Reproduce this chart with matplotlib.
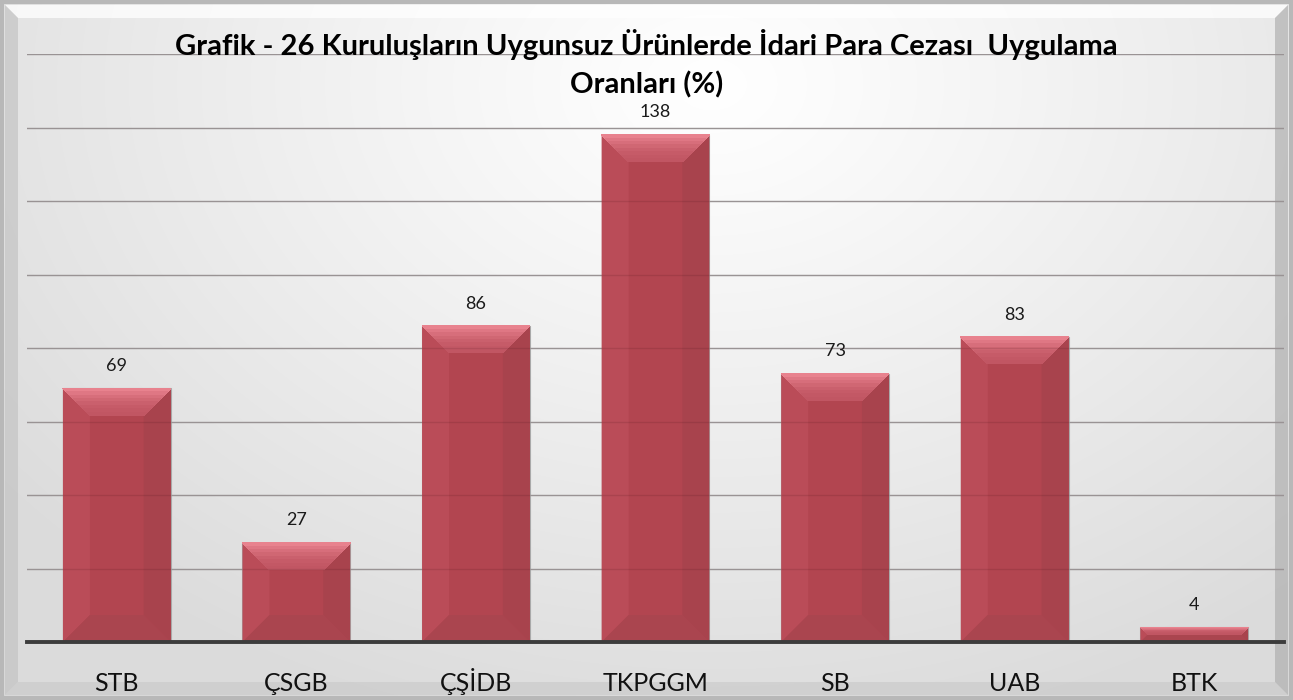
import numpy as np
import matplotlib
matplotlib.use("Agg")
import matplotlib.pyplot as plt
from matplotlib.patches import Polygon, Rectangle

plt.rcParams['font.family'] = ['Lato', 'DejaVu Sans']

categories = ["STB", "ÇSGB", "ÇŞİDB", "TKPGGM", "SB", "UAB", "BTK"]
values = [69, 27, 86, 138, 73, 83, 4]
title = "Grafik - 26 Kuruluşların Uygunsuz Ürünlerde İdari Para Cezası  Uygulama\nOranları (%)"

W, H = 1293, 700
fig = plt.figure(figsize=(W / 100, H / 100), dpi=100)

# background
bg = fig.add_axes([0, 0, 1, 1], zorder=-10)
yy, xx = np.mgrid[0:H, 0:W]
cx, cy = W * 0.55, H * 0.12
r = np.sqrt(((xx - cx) / (W * 0.7)) ** 2 + ((yy - cy) / (H * 0.95)) ** 2)
g = 1.0 - 0.14 * np.clip(r, 0, 1) ** 1.1
img = np.dstack([g, g, g])
bg.imshow(img, extent=[0, W, H, 0], aspect='auto')
bg.set_xlim(0, W)
bg.set_ylim(H, 0)
bg.axis('off')
# outer frame and bevel
m = 13
o = 5
bg.add_patch(Rectangle((2, 2), W - 4, H - 4, fill=False, ec='#b8b8b8', lw=3))
bg.add_patch(Polygon([[o, o], [W - o, o], [W - o - m, o + m], [o + m, o + m]], closed=True, fc='white', ec='none', alpha=0.75))
bg.add_patch(Polygon([[o, o], [o + m, o + m], [o + m, H - o - m], [o, H - o]], closed=True, fc='#c4c4c4', ec='none', alpha=0.7))
bg.add_patch(Polygon([[o, H - o], [o + m, H - o - m], [W - o - m, H - o - m], [W - o, H - o]], closed=True, fc='#c8c8c8', ec='none', alpha=0.6))
bg.add_patch(Polygon([[W - o, o], [W - o - m, o + m], [W - o - m, H - o - m], [W - o, H - o]], closed=True, fc='#b0b0b0', ec='none', alpha=0.7))

# main axes
left, right, top, bottom = 27, 1284, 54, 642
ax = fig.add_axes([left / W, 1 - bottom / H, (right - left) / W, (bottom - top) / H])
ax.patch.set_alpha(0)
x = np.arange(len(categories))
ax.set_xlim(-0.5, len(categories) - 0.5)
ax.set_ylim(0, 160)
yt = np.arange(0, 161, 20)
ax.set_yticks(yt)
ax.yaxis.grid(True, color='#a8a8a8', lw=1)
ax.set_axisbelow(True)
ax.tick_params(axis='y', left=False, labelleft=False)
ax.tick_params(axis='x', bottom=False, labelsize=18, pad=32, labelcolor='#111111')
for s in ['top', 'right', 'left']:
    ax.spines[s].set_visible(False)
ax.spines['bottom'].set_color('#3c3c3c')
ax.spines['bottom'].set_linewidth(2.8)
ax.spines['bottom'].set_zorder(5)
ax.set_xticks(x)
ax.set_xticklabels(categories)
for lab in ax.get_xticklabels():
    lab.set_verticalalignment('baseline')

bw = 0.6
bars = ax.bar(x, values, width=bw, color='#b24550', edgecolor='#a9a9a9', lw=0.8, zorder=2)
px_per_unit_x = (right - left) / len(categories)
px_per_unit_y = (bottom - top) / 160
bev_px = 27
for xi, v in zip(x, values):
    dy = min(bev_px / px_per_unit_y, v / 2)
    dxx = dy * px_per_unit_y / px_per_unit_x
    x0, x1 = xi - bw / 2, xi + bw / 2
    ax.add_patch(Polygon([[x0, v], [x0 + dxx, v - dy], [x0 + dxx, dy], [x0, 0]], closed=True,
                         fc='#ba4c58', ec='none', zorder=3))
    ax.add_patch(Polygon([[x1, v], [x1 - dxx, v - dy], [x1 - dxx, dy], [x1, 0]], closed=True,
                         fc='#a8434d', ec='none', zorder=3))
    ax.add_patch(Polygon([[x0, 0], [x1, 0], [x1 - dxx, dy], [x0 + dxx, dy]], closed=True,
                         fc='#aa454f', ec='none', zorder=3))
    n = 8
    for k in range(n):
        f0, f1 = k / n, (k + 1) / n
        c = np.array([0xe8, 0x82, 0x8e]) * (1 - f0) ** 2 + np.array([0xc0, 0x55, 0x62]) * (1 - (1 - f0) ** 2)
        ax.add_patch(Polygon([[x0 + dxx * f0, v - dy * f0], [x1 - dxx * f0, v - dy * f0],
                              [x1 - dxx * f1, v - dy * f1], [x0 + dxx * f1, v - dy * f1]], closed=True,
                             fc=c / 255, ec='none', lw=0, antialiased=False, zorder=3))
    ax.annotate(f"{v}", xy=(xi, v), xytext=(0, 12.5), textcoords='offset points',
                ha='center', va='baseline', fontsize=13, color='#1a1a1a')

# gridlines faintly visible through bars
for t in yt[1:]:
    ax.axhline(t, color='#3a0a10', lw=1, alpha=0.13, zorder=4)

fig.text(0.5, 1 - 64 / H, title, ha='center', va='center', fontsize=21, fontweight='bold',
         linespacing=1.5, color='black')

fig.savefig("out.png", dpi=100)
